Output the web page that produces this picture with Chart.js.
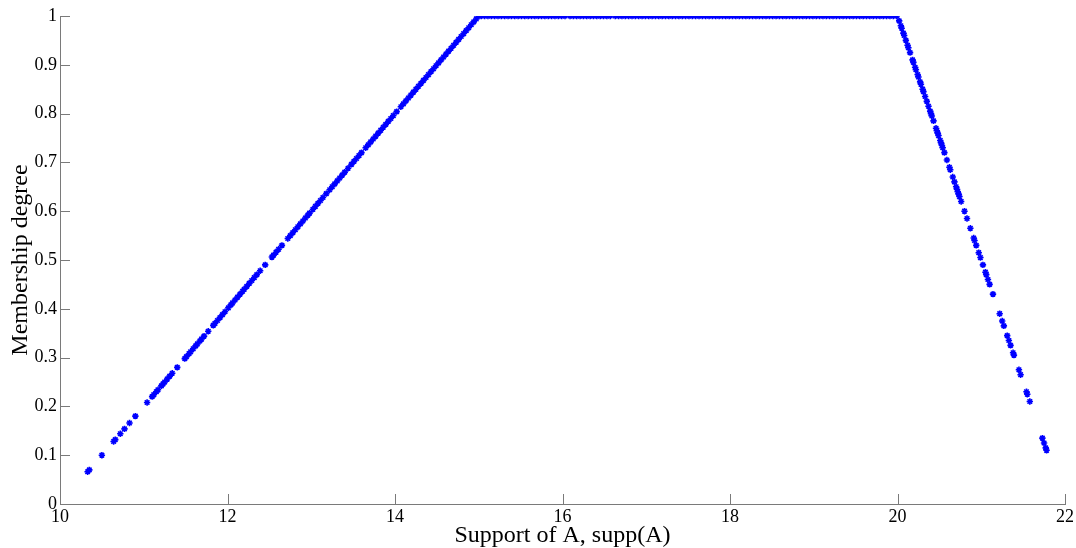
<!DOCTYPE html>
<html>
<head>
<meta charset="utf-8">
<script src="https://cdn.jsdelivr.net/npm/chart.js@4/dist/chart.umd.min.js"></script>
<style>
  html, body { margin: 0; padding: 0; background: #ffffff; }
  #wrap { width: 1076px; height: 548px; }
</style>
</head>
<body>
<div id="wrap"><canvas id="c" width="1076" height="548"></canvas></div>
<script>
// ---- Data ----
const xTicks = [10, 12, 14, 16, 18, 20, 22];
const yTicks = [0, 0.1, 0.2, 0.3, 0.4, 0.5, 0.6, 0.7, 0.8, 0.9, 1];
const xTitle = "Support of A, supp(A)";
const yTitle = "Membership degree";

// rising edge
const riseX = [10.33, 10.35, 10.50, 10.64, 10.66, 10.72, 10.77, 10.83, 10.90, 11.04,
  11.10, 11.12, 11.15, 11.17, 11.21, 11.23, 11.25, 11.28, 11.31, 11.34, 11.40,
  11.49, 11.51, 11.54, 11.56, 11.59, 11.62, 11.64, 11.67, 11.69, 11.72, 11.77,
  11.83, 11.85, 11.88, 11.91, 11.94, 11.97,
  12.01, 12.04, 12.06, 12.09, 12.12, 12.15, 12.18, 12.20, 12.23, 12.26, 12.29, 12.32, 12.35,
  12.39, 12.45, 12.53, 12.55, 12.58, 12.61, 12.65,
  12.72, 12.75, 12.78, 12.81, 12.84, 12.87, 12.90, 12.93, 12.96, 12.98,
  13.02, 13.05, 13.08, 13.11, 13.14, 13.18,
  13.22, 13.25, 13.28, 13.31, 13.34, 13.37, 13.40, 13.44,
  13.48, 13.51, 13.54, 13.57, 13.60,
  13.65, 13.68, 13.71, 13.74, 13.77, 13.80, 13.83, 13.86, 13.89, 13.92, 13.95, 13.98, 14.02,
  14.07, 14.10, 14.13, 14.16, 14.19, 14.22, 14.25, 14.28, 14.31, 14.34, 14.37, 14.40,
  14.43, 14.46, 14.49, 14.52, 14.55, 14.58, 14.61, 14.64, 14.67, 14.70, 14.73, 14.76,
  14.79, 14.82, 14.85, 14.88, 14.91, 14.94, 14.97, 15.00];
const riseY = [0.066, 0.070, 0.100, 0.128, 0.132, 0.144, 0.154, 0.166, 0.180, 0.208,
  0.220, 0.224, 0.230, 0.234, 0.242, 0.246, 0.250, 0.256, 0.262, 0.268, 0.280,
  0.298, 0.302, 0.308, 0.312, 0.318, 0.324, 0.328, 0.334, 0.338, 0.344, 0.354,
  0.366, 0.370, 0.376, 0.382, 0.388, 0.394,
  0.402, 0.408, 0.412, 0.418, 0.424, 0.430, 0.436, 0.440, 0.446, 0.452, 0.458, 0.464, 0.470,
  0.478, 0.490, 0.506, 0.510, 0.516, 0.522, 0.530,
  0.544, 0.550, 0.556, 0.562, 0.568, 0.574, 0.580, 0.586, 0.592, 0.596,
  0.604, 0.610, 0.616, 0.622, 0.628, 0.636,
  0.644, 0.650, 0.656, 0.662, 0.668, 0.674, 0.680, 0.688,
  0.696, 0.702, 0.708, 0.714, 0.720,
  0.730, 0.736, 0.742, 0.748, 0.754, 0.760, 0.766, 0.772, 0.778, 0.784, 0.790, 0.796, 0.804,
  0.814, 0.820, 0.826, 0.832, 0.838, 0.844, 0.850, 0.856, 0.862, 0.868, 0.874, 0.880,
  0.886, 0.892, 0.898, 0.904, 0.910, 0.916, 0.922, 0.928, 0.934, 0.940, 0.946, 0.952,
  0.958, 0.964, 0.970, 0.976, 0.982, 0.988, 0.994, 1.000];

// plateau
const flatX = [15.03, 15.07, 15.11, 15.15, 15.19, 15.23, 15.27, 15.31, 15.35, 15.39,
  15.43, 15.47, 15.51, 15.55, 15.59, 15.63, 15.67, 15.71, 15.75, 15.79,
  15.83, 15.87, 15.91, 15.95, 15.99, 16.03, 16.09, 16.13, 16.17, 16.21,
  16.25, 16.29, 16.33, 16.37, 16.41, 16.45, 16.49, 16.53, 16.57, 16.63,
  16.67, 16.71, 16.75, 16.79, 16.83, 16.87, 16.91, 16.95, 16.99, 17.03,
  17.07, 17.11, 17.15, 17.19, 17.23, 17.27, 17.31, 17.35, 17.39, 17.43,
  17.47, 17.51, 17.55, 17.59, 17.63, 17.67, 17.71, 17.75, 17.79, 17.83,
  17.87, 17.91, 17.95, 17.99, 18.03, 18.07, 18.11, 18.15, 18.19, 18.23,
  18.27, 18.31, 18.35, 18.39, 18.43, 18.47, 18.51, 18.55, 18.59, 18.63,
  18.67, 18.71, 18.75, 18.79, 18.83, 18.87, 18.91, 18.95, 18.99, 19.03,
  19.07, 19.11, 19.15, 19.19, 19.23, 19.27, 19.31, 19.35, 19.39, 19.43,
  19.47, 19.51, 19.55, 19.59, 19.63, 19.67, 19.71, 19.75, 19.79, 19.83,
  19.87, 19.91, 19.95, 19.99];
const flatY = [1, 1, 1, 1, 1, 1, 1, 1, 1, 1,
  1, 1, 1, 1, 1, 1, 1, 1, 1, 1,
  1, 1, 1, 1, 1, 1, 1, 1, 1, 1,
  1, 1, 1, 1, 1, 1, 1, 1, 1, 1,
  1, 1, 1, 1, 1, 1, 1, 1, 1, 1,
  1, 1, 1, 1, 1, 1, 1, 1, 1, 1,
  1, 1, 1, 1, 1, 1, 1, 1, 1, 1,
  1, 1, 1, 1, 1, 1, 1, 1, 1, 1,
  1, 1, 1, 1, 1, 1, 1, 1, 1, 1,
  1, 1, 1, 1, 1, 1, 1, 1, 1, 1,
  1, 1, 1, 1, 1, 1, 1, 1, 1, 1,
  1, 1, 1, 1, 1, 1, 1, 1, 1, 1,
  1, 1, 1, 1];

// falling edge
const fallX = [20.02, 20.04, 20.05, 20.07, 20.08, 20.10, 20.12, 20.13, 20.15, 20.18,
  20.19, 20.21, 20.22, 20.24, 20.25, 20.27, 20.28, 20.30, 20.31, 20.33,
  20.35, 20.37, 20.39, 20.40, 20.41, 20.43, 20.46, 20.47, 20.48, 20.49,
  20.51, 20.52, 20.53, 20.54, 20.56, 20.59, 20.62, 20.63, 20.66, 20.68,
  20.70, 20.71, 20.72, 20.73, 20.74, 20.76, 20.80, 20.83, 20.87, 20.91,
  20.92, 20.94, 20.97, 20.99, 21.02, 21.05, 21.06, 21.08, 21.10, 21.14,
  21.22, 21.25, 21.27, 21.31, 21.33, 21.35, 21.38, 21.39, 21.45, 21.47,
  21.54, 21.55, 21.58, 21.73, 21.75, 21.77, 21.78];
const fallY = [0.990, 0.980, 0.975, 0.965, 0.960, 0.950, 0.940, 0.935, 0.925, 0.910,
  0.905, 0.895, 0.890, 0.880, 0.875, 0.865, 0.860, 0.850, 0.845, 0.835,
  0.825, 0.815, 0.805, 0.800, 0.795, 0.785, 0.770, 0.765, 0.760, 0.755,
  0.745, 0.740, 0.735, 0.730, 0.720, 0.705, 0.690, 0.685, 0.670, 0.660,
  0.650, 0.645, 0.640, 0.635, 0.630, 0.620, 0.600, 0.585, 0.565, 0.545,
  0.540, 0.530, 0.515, 0.505, 0.490, 0.475, 0.470, 0.460, 0.450, 0.430,
  0.390, 0.375, 0.365, 0.345, 0.335, 0.325, 0.310, 0.305, 0.275, 0.265,
  0.230, 0.225, 0.210, 0.135, 0.125, 0.115, 0.110];

// ---- Build chart data from the arrays ----
function pairs(xs, ys) { return xs.map((x, i) => ({ x: x, y: ys[i] })); }
const points = [].concat(pairs(riseX, riseY), pairs(flatX, flatY), pairs(fallX, fallY));

const SERIF = "'Liberation Serif', 'DejaVu Serif', serif";
const AXIS_GRAY = '#7a7a7a';

// inward tick marks (MATLAB style)
const inwardTicks = {
  id: 'inwardTicks',
  afterDatasetsDraw(chart) {
    const ctx = chart.ctx;
    const xs = chart.scales.x, ys = chart.scales.y;
    const L = 10;
    ctx.save();
    ctx.strokeStyle = AXIS_GRAY;
    ctx.lineWidth = 1;
    ctx.beginPath();
    xTicks.forEach(v => {
      const px = Math.round(xs.getPixelForValue(v)) + 0.5;
      ctx.moveTo(px, ys.bottom);
      ctx.lineTo(px, ys.bottom - L);
    });
    yTicks.forEach(v => {
      const py = Math.round(ys.getPixelForValue(v)) + 0.5;
      ctx.moveTo(xs.left, py);
      ctx.lineTo(xs.left + L, py);
    });
    ctx.stroke();
    ctx.restore();
  }
};

new Chart(document.getElementById('c'), {
  type: 'scatter',
  data: {
    datasets: [{
      label: 'membership',
      data: points,
      pointStyle: 'star',
      pointRadius: 3.2,
      pointHoverRadius: 3.2,
      borderColor: '#0000ff',
      backgroundColor: '#0000ff',
      pointBorderWidth: 1.6,
      showLine: false
    }]
  },
  options: {
    responsive: false,
    animation: false,
    devicePixelRatio: 1,
    layout: { padding: { left: 0, right: 10, top: 16, bottom: 0 } },
    plugins: {
      legend: { display: false },
      tooltip: { enabled: false }
    },
    scales: {
      x: {
        type: 'linear',
        min: 10, max: 22,
        afterBuildTicks: (s) => { s.ticks = xTicks.map(v => ({ value: v })); },
        afterFit: (s) => { s.height = 44; },
        grid: { display: false, drawTicks: false },
        border: { display: true, color: AXIS_GRAY, width: 1 },
        ticks: {
          color: '#000', padding: 2, maxRotation: 0, autoSkip: false,
          font: { family: SERIF, size: 18 },
          callback: (v) => String(v)
        },
        title: {
          display: true, text: xTitle, color: '#000',
          font: { family: SERIF, size: 24, lineHeight: 1 },
          padding: { top: 0, bottom: 0 }
        }
      },
      y: {
        type: 'linear',
        min: 0, max: 1,
        afterBuildTicks: (s) => { s.ticks = yTicks.map(v => ({ value: v })); },
        afterFit: (s) => { s.width = 60; },
        grid: { display: false, drawTicks: false },
        border: { display: true, color: AXIS_GRAY, width: 1 },
        ticks: {
          color: '#000', padding: 3, autoSkip: false,
          font: { family: SERIF, size: 18 },
          callback: (v) => String(Math.round(v * 10) / 10)
        },
        title: {
          display: true, text: yTitle, color: '#000',
          font: { family: SERIF, size: 24, lineHeight: 1 },
          padding: { top: 9, bottom: 0 }
        }
      }
    }
  },
  plugins: [inwardTicks]
});
</script>
</body>
</html>
